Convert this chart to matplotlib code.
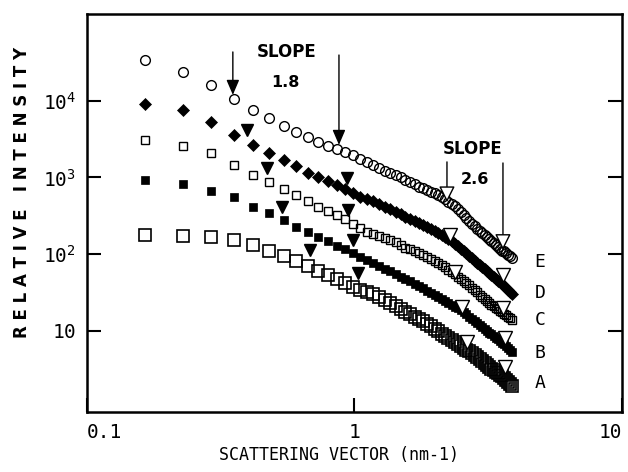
import matplotlib
matplotlib.use("Agg")
import matplotlib.pyplot as plt
from matplotlib.ticker import NullLocator

# scattering vector (nm-1), same q grid for all five samples
q = [0.165, 0.228, 0.291, 0.354, 0.417, 0.480, 0.543, 0.606, 0.669, 0.732,
     0.795, 0.858, 0.921, 0.984, 1.047, 1.110, 1.173, 1.236, 1.299, 1.362,
     1.425, 1.488, 1.551, 1.614, 1.677, 1.740, 1.803, 1.866, 1.929, 1.992,
     2.055, 2.118, 2.181, 2.244, 2.307, 2.370, 2.433, 2.496, 2.559, 2.622,
     2.685, 2.748, 2.811, 2.874, 2.937, 3.000, 3.063, 3.126, 3.189, 3.252,
     3.315, 3.378, 3.441, 3.504, 3.567, 3.630, 3.693, 3.756, 3.819, 3.882]

int_E = [34000, 23700, 16000, 10500, 7570, 5950, 4680, 3910, 3360, 2890,
         2570, 2350, 2140, 1930, 1740, 1590, 1450, 1330, 1210, 1140,
         1075, 1012, 925, 871, 820, 750, 728, 685, 645, 617,
         590, 555, 515, 478, 450, 418, 387, 354, 323, 296,
         270, 247, 229, 212, 200, 188, 177, 167, 157, 148,
         140, 131, 124, 117, 111, 108, 103, 97.3, 93.1, 89.0]
int_D = [9050, 7570, 5280, 3570, 2650, 2080, 1690, 1410, 1140, 1010,
         884, 784, 695, 617, 555, 515, 485, 450, 411, 382,
         354, 328, 305, 287, 270, 254, 240, 226, 213, 200,
         188, 177, 167, 157, 146, 135, 126, 117, 108, 102,
         94.4, 87.6, 81.3, 76.6, 71.0, 66.9, 62.9, 59.3, 55.8, 52.6,
         49.5, 46.6, 44.6, 42.6, 40.7, 38.4, 36.1, 34.0, 32.1, 30.2]
int_C = [3070, 2570, 2080, 1450, 1075, 871, 706, 589, 485, 411,
         365, 319, 283, 247, 219, 194, 183, 172, 162, 153,
         142, 131, 120, 115, 110, 103, 97.3, 91.6, 86.4, 81.3,
         76.6, 71.0, 66.9, 62.0, 58.4, 54.2, 50.2, 47.4, 44.6, 41.4,
         39.0, 36.1, 34.0, 31.6, 29.3, 27.6, 26.0, 24.5, 23.0, 21.7,
         20.7, 19.8, 18.95, 18.1, 17.3, 16.6, 15.8, 15.1, 14.5, 13.8]
int_B = [925, 820, 665, 555, 411, 343, 278, 226, 194, 167,
         148, 129, 117, 103, 91.6, 83.8, 76.6, 70.0, 63.9, 59.3,
         54.2, 50.2, 46.6, 43.9, 40.7, 38.4, 35.6, 33.0, 31.1, 29.3,
         27.6, 26.0, 24.5, 23.0, 21.7, 20.4, 19.5, 18.4, 17.3, 16.3,
         15.1, 14.25, 13.4, 12.6, 11.9, 11.2, 10.55, 9.94, 9.36, 8.94,
         8.55, 8.05, 7.70, 7.26, 6.94, 6.63, 6.34, 5.97, 5.62, 5.29]
int_A = [177, 172, 167, 153, 131, 108, 94.4, 81.3, 68.9, 60.2,
         53.4, 47.4, 42.0, 37.2, 34.0, 32.1, 29.7, 27.6, 25.2, 23.0,
         21.1, 19.2, 17.6, 16.3, 15.1, 14.25, 13.2, 12.3, 11.4, 10.55,
         9.94, 9.08, 8.55, 8.05, 7.59, 7.15, 6.73, 6.34, 5.97, 5.62,
         5.37, 5.06, 4.76, 4.49, 4.22, 3.98, 3.74, 3.53, 3.37, 3.17,
         3.03, 2.90, 2.77, 2.65, 2.53, 2.42, 2.28, 2.15, 2.02, 1.90]

# slope range markers (filled = 1.8 region, open = 2.6 region)
tri18_q = [0.396, 0.471, 0.536, 0.682, 0.937, 0.946, 0.987, 1.031]
tri18_i = [4150, 1330, 411, 113, 982, 376, 153, 56.7]
tri26_q = [2.275, 2.375, 2.523, 2.634, 3.59, 3.59, 3.652, 3.652]
tri26_i = [177, 58.4, 20.4, 7.15, 53.4, 19.8, 8.05, 3.37]

# arrows on curve E: (q, tail intensity, tip intensity)
arrows18 = [(0.351, 43200, 11900), (0.875, 39400, 2650)]
arrows26 = [(2.217, 1590, 474), (3.59, 1540, 113)]

plt.rcParams['font.family'] = ['DejaVu Sans Mono']
plt.rcParams['mathtext.fontset'] = 'custom'
plt.rcParams['mathtext.rm'] = 'DejaVu Sans Mono'

fig = plt.figure(figsize=(6.28, 4.72), dpi=100)
ax = fig.add_axes([0.1385, 0.1271, 0.8519, 0.8432])
ax.set_xscale('log')
ax.set_yscale('log')

styles = [
    (int_E, dict(marker='o', mfc='none', ms=7, mew=1.0)),
    (int_D, dict(marker='D', mfc='black', ms=6.5, mew=0.5)),
    (int_C, dict(marker='s', mfc='none', ms=5.5, mew=1.0)),
    (int_B, dict(marker='s', mfc='black', ms=6, mew=0.5)),
    (int_A, dict(marker='s', mfc='none', ms=8, mew=1.2)),
]
for vals, st in styles:
    ax.plot(q, vals, ls='none', color='black', mec='black', **st)

ax.plot(tri18_q, tri18_i, ls='none', marker='v', color='black', ms=9)
ax.plot(tri26_q, tri26_i, ls='none', marker='v', mfc='white', mec='black', ms=10, mew=1.0)

for xq, tail, tip in arrows18:
    ax.annotate('', xy=(xq, tip), xytext=(xq, tail),
                arrowprops=dict(arrowstyle='-|>,head_length=0.7,head_width=0.3',
                                mutation_scale=13, fc='black', ec='black', lw=1.0,
                                shrinkA=0, shrinkB=0))
for xq, tail, tip in arrows26:
    ax.annotate('', xy=(xq, tip), xytext=(xq, tail),
                arrowprops=dict(arrowstyle='-|>,head_length=0.7,head_width=0.35',
                                mutation_scale=14, fc='white', ec='black', lw=1.0,
                                shrinkA=0, shrinkB=0))

bold = dict(family='DejaVu Sans', fontweight='bold', transform=ax.transAxes,
            ha='center', va='center')
ax.text(0.374, 0.905, 'SLOPE', fontsize=12, **bold)
ax.text(0.370, 0.829, '1.8', fontsize=11.5, **bold)
ax.text(0.7215, 0.661, 'SLOPE', fontsize=12, **bold)
ax.text(0.725, 0.583, '2.6', fontsize=11.5, **bold)

for name, yf in zip(['E', 'D', 'C', 'B', 'A'], [0.377, 0.299, 0.231, 0.148, 0.073]):
    ax.text(0.847, yf, name, fontsize=13, transform=ax.transAxes, ha='center', va='center')

ax.set_xlim(0.1, 10)
ax.set_ylim(0.87, 1.35e5)
ax.set_xticks([0.1, 1, 10])
ax.set_xticklabels(['0.1', '1', '10'])
ax.set_yticks([10, 100, 1000, 10000])
ax.set_yticklabels([r'$\mathregular{10}$', r'$\mathregular{10^2}$',
                    r'$\mathregular{10^3}$', r'$\mathregular{10^4}$'])
ax.xaxis.set_minor_locator(NullLocator())
ax.yaxis.set_minor_locator(NullLocator())
ax.tick_params(direction='in', length=10, width=1.5, top=False, right=True,
               labelsize=14, pad=8)
xl = ax.get_xticklabels()
xl[0].set_ha('left')
xl[-1].set_ha('right')
for sp in ax.spines.values():
    sp.set_linewidth(1.8)

fig.text(339 / 628, 1 - 455 / 472, 'SCATTERING VECTOR (nm-1)', fontsize=12,
         ha='center', va='center')
fig.text(22 / 628, 1 - 192 / 472, 'R E L A T I V E   I N T E N S I T Y',
         family='DejaVu Sans', fontweight='bold', fontsize=12,
         rotation=90, ha='center', va='center')

fig.savefig('out.png', dpi=100)
